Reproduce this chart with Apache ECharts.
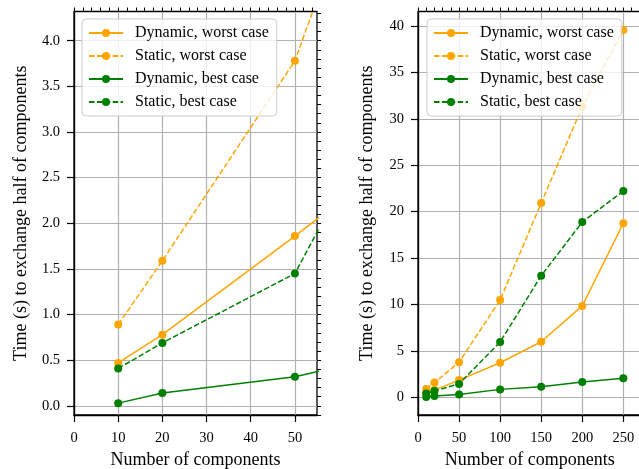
<!DOCTYPE html>
<html><head><meta charset="utf-8">
<script src="https://cdn.jsdelivr.net/npm/echarts@6/dist/echarts.min.js"></script>
<style>html,body{margin:0;padding:0;background:#fff}#c{width:639px;height:469px}</style>
</head><body><div id="c"></div>
<script>
// ---- data ----
const components = [10, 20, 50, 100, 150, 200, 250];
const dynamicWorst = [0.47, 0.78, 1.86, 3.73, 5.99, 9.85, 18.75];
const staticWorst = [0.89, 1.59, 3.78, 10.48, 20.93, 31.3, 39.57];
const dynamicBest = [0.03, 0.14, 0.32, 0.86, 1.14, 1.65, 2.05];
const staticBest = [0.41, 0.69, 1.45, 5.96, 13.1, 18.88, 22.22];
const seriesNames = ['Dynamic, worst case', 'Static, worst case', 'Dynamic, best case', 'Static, best case'];

// ---- tick labels ----
const leftXTicks = [0, 10, 20, 30, 40, 50];
const leftYTicks = [0, 0.5, 1, 1.5, 2, 2.5, 3, 3.5, 4];
const rightXTicks = [0, 50, 100, 150, 200, 250];
const rightYTicks = [0, 5, 10, 15, 20, 25, 30, 35, 40];

function steps(a, b, s) { const r = []; for (let v = a; v <= b + 1e-9; v += s) r.push(Math.round(v * 1000) / 1000); return r; }
const leftXMinor = steps(0, 54, 2);
const leftYMinor = steps(-0.1, 4.3, 0.1);
const rightXMinor = steps(0, 270, 10);
const rightYMinor = steps(-1, 41, 1);

const FONT = 'Liberation Serif';
const BLACK = '#000';
const GRIDC = '#b0b0b0';

function mainAxis(gridIndex, min, max, ticks, fmt, name, gap, isY) {
  return {
    type: 'value', gridIndex, min, max,
    name, nameLocation: 'middle', nameGap: gap,
    nameTextStyle: { fontFamily: FONT, fontSize: 18, color: BLACK },
    axisLine: { show: true, onZero: false, lineStyle: { color: BLACK, width: 1.3 } },
    axisTick: { show: true, inside: false, length: 7, customValues: ticks, lineStyle: { color: BLACK, width: 1.2 } },
    axisLabel: { show: true, customValues: ticks, margin: isY ? 14 : 16, fontFamily: FONT, fontSize: 14.5, color: BLACK, formatter: fmt, showMinLabel: true, showMaxLabel: true },
    splitLine: { show: true, lineStyle: { color: GRIDC, width: 1.2 } },
    minorTick: { show: false }
  };
}
function minorAxis(gridIndex, min, max, ticks) {
  return {
    type: 'value', gridIndex, min, max,
    axisLine: { show: false, onZero: false },
    axisTick: { show: true, inside: false, length: 4, customValues: ticks, lineStyle: { color: BLACK, width: 1 } },
    axisLabel: { show: false },
    splitLine: { show: false }
  };
}

const fmt1 = v => v.toFixed(1);
const fmt0 = v => String(Math.round(v));

const xAxis = [
  mainAxis(0, 0, 55, leftXTicks, fmt0, 'Number of components', 36, false),
  minorAxis(0, 0, 55, leftXMinor),
  mainAxis(1, 0, 272, rightXTicks, fmt0, 'Number of components', 36, false),
  minorAxis(1, 0, 272, rightXMinor)
];
const yAxis = [
  mainAxis(0, -0.1, 4.32, leftYTicks, fmt1, 'Time (s) to exchange half of components', 44, true),
  minorAxis(0, -0.1, 4.32, leftYMinor),
  mainAxis(1, -1.9, 41.56, rightYTicks, fmt0, 'Time (s) to exchange half of components', 42, true),
  minorAxis(1, -1.9, 41.56, rightYMinor)
];

const ORANGE = '#ffa500', GREEN = '#008000';
const defs = [
  { name: seriesNames[0], data: dynamicWorst, color: ORANGE, type: 'solid' },
  { name: seriesNames[1], data: staticWorst, color: ORANGE, type: 'dashed' },
  { name: seriesNames[2], data: dynamicBest, color: GREEN, type: 'solid' },
  { name: seriesNames[3], data: staticBest, color: GREEN, type: 'dashed' }
];
const series = [];
[0, 2].forEach(ai => {
  defs.forEach((d, k) => {
    series.push({
      type: 'line', name: d.name, xAxisIndex: ai, yAxisIndex: ai,
      data: components.map((x, i) => [x, d.data[i]]),
      symbol: 'circle', symbolSize: 8, showSymbol: true, clip: true,
      itemStyle: { color: d.color },
      lineStyle: { color: d.color, width: 1.5, type: d.type === 'dashed' ? [5.5, 2.4] : 'solid' },
      emphasis: { disabled: true }, z: 2 + k * 0.1
    });
  });
});

function legend(left) {
  return {
    left, top: 19, orient: 'vertical', data: seriesNames,
    backgroundColor: 'rgba(255,255,255,0.8)', borderColor: '#cccccc', borderWidth: 1, borderRadius: 4,
    padding: [6, 8, 6, 6], itemWidth: 34, itemHeight: 10, itemGap: 7,
    textStyle: { fontFamily: FONT, fontSize: 16, color: BLACK, padding: [0, 0, 0, 7] },
    selectedMode: false
  };
}

const chart = echarts.init(document.getElementById('c'), null, { renderer: 'canvas' });
chart.setOption({
  animation: false,
  backgroundColor: '#fff',
  grid: [
    { left: 74, top: 11.5, width: 243, height: 403.5, outerBoundsMode: 'none', containLabel: false, show: true, borderColor: BLACK, borderWidth: 1.3, backgroundColor: 'transparent' },
    { left: 418, top: 11.5, width: 223.4, height: 403.5, outerBoundsMode: 'none', containLabel: false, show: true, borderColor: BLACK, borderWidth: 1.3, backgroundColor: 'transparent' }
  ],
  legend: [legend(82), legend(427)],
  xAxis, yAxis, series
});
</script></body></html>
